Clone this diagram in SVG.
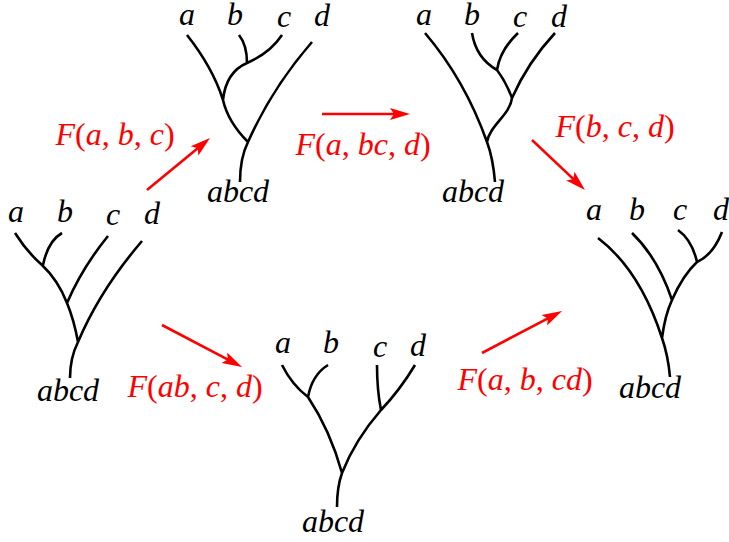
<svg xmlns="http://www.w3.org/2000/svg" width="729" height="542" viewBox="0 0 729 542">
<style>
.t{fill:none;stroke:#000;stroke-width:2.6;stroke-linecap:butt}
.lbl{font-family:"Liberation Serif","Times New Roman",serif;font-size:32px;font-style:italic;fill:#000;text-anchor:middle}
.fl{font-family:"Liberation Serif","Times New Roman",serif;font-size:32px;font-style:italic;fill:#ff0000;text-anchor:middle}
.up{font-style:normal}
.arr{fill:none;stroke:#ff0000;stroke-width:2.6;marker-end:url(#ah)}
</style>
<defs>
<marker id="ah" markerUnits="userSpaceOnUse" orient="auto" viewBox="-12 -8 24 16" markerWidth="24" markerHeight="16" refX="0" refY="0">
<path d="M10,0 L-10,-6 L-6,0 L-10,6 z" fill="#ff0000"/>
</marker>
</defs>
<rect width="729" height="542" fill="#fff"/>

<g id="tree-left">
<path class="t" d="M15,233 Q27,252 42,265 M62,233 Q48,241 43,265 M42,265 Q58,280 67,303 M108,236 Q82,268 67,303 M67,303 Q74,320 78,342 M142,241 Q100,290 78,342 M78,342 Q70,358 70,378"/>
<text class="lbl" x="16" y="222">a</text>
<text class="lbl" x="65" y="222">b</text>
<text class="lbl" x="113" y="225">c</text>
<text class="lbl" x="152" y="224">d</text>
<text class="lbl" x="68" y="401">abcd</text>
</g>

<g id="tree-top-middle">
<path class="t" d="M187,35 Q213,68 223,100 Q228,122 248,142 M239,35 Q247,45 247,63 M282,35 Q270,53 247,63 M247,63 Q226,72 223,100 M312,42 Q272,88 248,142 M248,142 Q240,158 240,182"/>
<text class="lbl" x="187" y="25">a</text>
<text class="lbl" x="235" y="25">b</text>
<text class="lbl" x="284" y="27">c</text>
<text class="lbl" x="322" y="26">d</text>
<text class="lbl" x="238" y="202">abcd</text>
</g>

<g id="tree-top-right">
<path class="t" d="M425,33 Q465,80 487,142 M487,142 Q493,158 495,182 M472,33 Q476,58 497,70 M518,33 Q500,50 497,70 M497,70 Q506,82 512,98 M555,33 Q528,62 512,98 M512,98 C510,115 490,125 487,142"/>
<text class="lbl" x="424" y="25">a</text>
<text class="lbl" x="472" y="25">b</text>
<text class="lbl" x="520" y="27">c</text>
<text class="lbl" x="559" y="27">d</text>
<text class="lbl" x="473" y="202">abcd</text>
</g>

<g id="tree-right">
<path class="t" d="M598,238 Q640,270 662,338 M662,338 Q668,355 670,377 M632,233 Q658,258 672,300 M672,300 Q665,315 662,338 M678,230 Q692,240 697,262 M722,232 Q713,255 697,262 M697,262 Q683,275 672,300"/>
<text class="lbl" x="594" y="220">a</text>
<text class="lbl" x="637" y="220">b</text>
<text class="lbl" x="680" y="220">c</text>
<text class="lbl" x="721" y="220">d</text>
<text class="lbl" x="650" y="398">abcd</text>
</g>

<g id="tree-bottom">
<path class="t" d="M282,365 Q292,385 308,397 M328,365 Q312,375 308,397 M308,397 Q330,430 342,473 M377,365 Q377,390 381,410 M415,365 Q400,390 381,410 M381,410 Q355,440 342,473 M342,473 Q337,487 337,507"/>
<text class="lbl" x="283" y="353">a</text>
<text class="lbl" x="331" y="353">b</text>
<text class="lbl" x="380" y="357">c</text>
<text class="lbl" x="418" y="356">d</text>
<text class="lbl" x="333" y="532">abcd</text>
</g>

<g id="connectors">
<line class="arr" x1="147" y1="190" x2="202.3" y2="144.4"/>
<line class="arr" x1="322" y1="114" x2="400" y2="114"/>
<line class="arr" x1="532" y1="140" x2="577.7" y2="183.1"/>
<line class="arr" x1="162" y1="325" x2="233.2" y2="362.4"/>
<line class="arr" x1="482" y1="353" x2="553.2" y2="315.6"/>
<text class="fl" x="115" y="145">F<tspan class="up">(</tspan>a<tspan class="up">, </tspan>b<tspan class="up">, </tspan>c<tspan class="up">)</tspan></text>
<text class="fl" x="363" y="155">F<tspan class="up">(</tspan>a<tspan class="up">, </tspan>bc<tspan class="up">, </tspan>d<tspan class="up">)</tspan></text>
<text class="fl" x="615" y="137">F<tspan class="up">(</tspan>b<tspan class="up">, </tspan>c<tspan class="up">, </tspan>d<tspan class="up">)</tspan></text>
<text class="fl" x="195" y="397">F<tspan class="up">(</tspan>ab<tspan class="up">, </tspan>c<tspan class="up">, </tspan>d<tspan class="up">)</tspan></text>
<text class="fl" x="525" y="390">F<tspan class="up">(</tspan>a<tspan class="up">, </tspan>b<tspan class="up">, </tspan>cd<tspan class="up">)</tspan></text>
</g>
</svg>
